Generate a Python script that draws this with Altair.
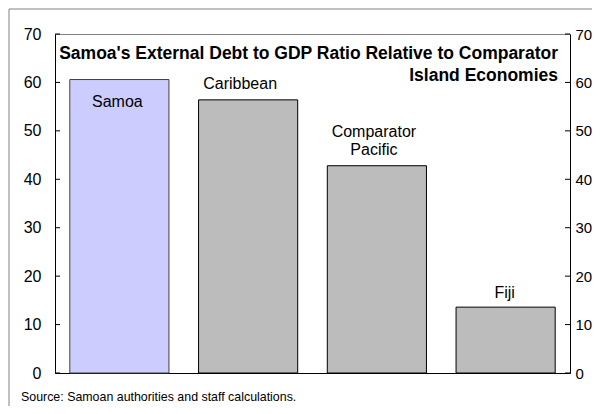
import altair as alt
import pandas as pd

categories = ["Samoa", "Caribbean", "Comparator Pacific", "Fiji"]
labels = ["Samoa", "Caribbean", "Comparator\nPacific", "Fiji"]
values = [60.6, 56.4, 42.8, 13.6]
fills = ["#ccccff", "#bcbcbc", "#bcbcbc", "#bcbcbc"]
strokes = ["#404040", "#000000", "#000000", "#000000"]
tick_values = [0, 10, 20, 30, 40, 50, 60, 70]
title_lines = "Samoa's External Debt to GDP Ratio Relative to Comparator\nIsland Economies"
source_note = "Source: Samoan authorities and staff calculations."

FONT = "Liberation Sans"

df = pd.DataFrame({"category": categories, "label": labels, "value": values})
ticks_df = pd.DataFrame({"t": tick_values})
one = pd.DataFrame({"a": [0]})

xenc = alt.X("category:N", sort=categories,
             scale=alt.Scale(paddingInner=0.23, paddingOuter=0.115),
             axis=alt.Axis(title=None, labels=False, ticks=False, domain=True,
                           domainColor="#000000", domainWidth=1))
yscale = alt.Scale(domain=[0, 70], nice=False, zero=True)

frame = alt.Chart(one).mark_rect(filled=False, stroke="#808080", strokeWidth=1).encode(
    x=alt.value(-46), x2=alt.value(700), y=alt.value(-25), y2=alt.value(600))

bars = alt.Chart(df).mark_bar(strokeWidth=1).encode(
    x=xenc,
    y=alt.Y("value:Q", scale=yscale,
            axis=alt.Axis(orient="left", title=None, values=tick_values, ticks=False,
                          grid=False, domainColor="#000000", labelFont=FONT,
                          labelFontSize=16, labelColor="#000000", labelPadding=14)),
    fill=alt.Fill("category:N", scale=alt.Scale(domain=categories, range=fills), legend=None),
    stroke=alt.Stroke("category:N", scale=alt.Scale(domain=categories, range=strokes), legend=None),
)

right_axis = alt.Chart(ticks_df).mark_rule(color="#000000").encode(
    y=alt.Y("t:Q", scale=yscale,
            axis=alt.Axis(orient="right", title=None, values=tick_values, ticks=False,
                          grid=False, domainColor="#000000", labelFont=FONT,
                          labelFontSize=15, labelColor="#000000", labelPadding=5)),
    x=alt.value(510), x2=alt.value(515))

left_ticks = alt.Chart(ticks_df).mark_rule(color="#000000").encode(
    y=alt.Y("t:Q", scale=yscale, axis=None),
    x=alt.value(0), x2=alt.value(5))


def bar_label(cat, dx, dy, baseline):
    return alt.Chart(df).transform_filter(alt.datum.category == cat).mark_text(
        font=FONT, fontSize=16, color="#000000", dx=dx, dy=dy, baseline=baseline,
        lineBreak="\n", lineHeight=18).encode(
        x=alt.X("category:N", sort=categories),
        y=alt.Y("value:Q", scale=yscale, axis=None),
        text="label:N")


lab_samoa = bar_label("Samoa", -2, 22, "middle")
lab_carib = bar_label("Caribbean", -8, -16, "middle")
lab_comp = bar_label("Comparator Pacific", -3, -34, "middle")
lab_fiji = bar_label("Fiji", -1, -14, "middle")

title = alt.Chart(pd.DataFrame({"t": [title_lines]})).mark_text(
    font=FONT, fontSize=17.5, fontWeight="bold", color="#000000", align="right",
    baseline="alphabetic", lineBreak="\n", lineHeight=22).encode(
    x=alt.value(503), y=alt.value(25), text="t:N")

source = alt.Chart(pd.DataFrame({"t": [source_note]})).mark_text(
    font=FONT, fontSize=12.4, color="#000000", align="left", baseline="alphabetic").encode(
    x=alt.value(-34), y=alt.value(367), text="t:N")

chart = alt.layer(frame, bars, right_axis, left_ticks, lab_samoa, lab_carib, lab_comp,
                  lab_fiji, title, source).resolve_axis(
    y="independent").properties(
    width=515, height=339,
    autosize=alt.AutoSizeParams(type="none"),
    padding={"left": 47, "top": 26, "right": 22, "bottom": 33},
    background="#ffffff",
).configure_view(stroke="#808080", strokeWidth=1)

chart.save("out.html", embed_options={"renderer": "svg", "actions": False})
